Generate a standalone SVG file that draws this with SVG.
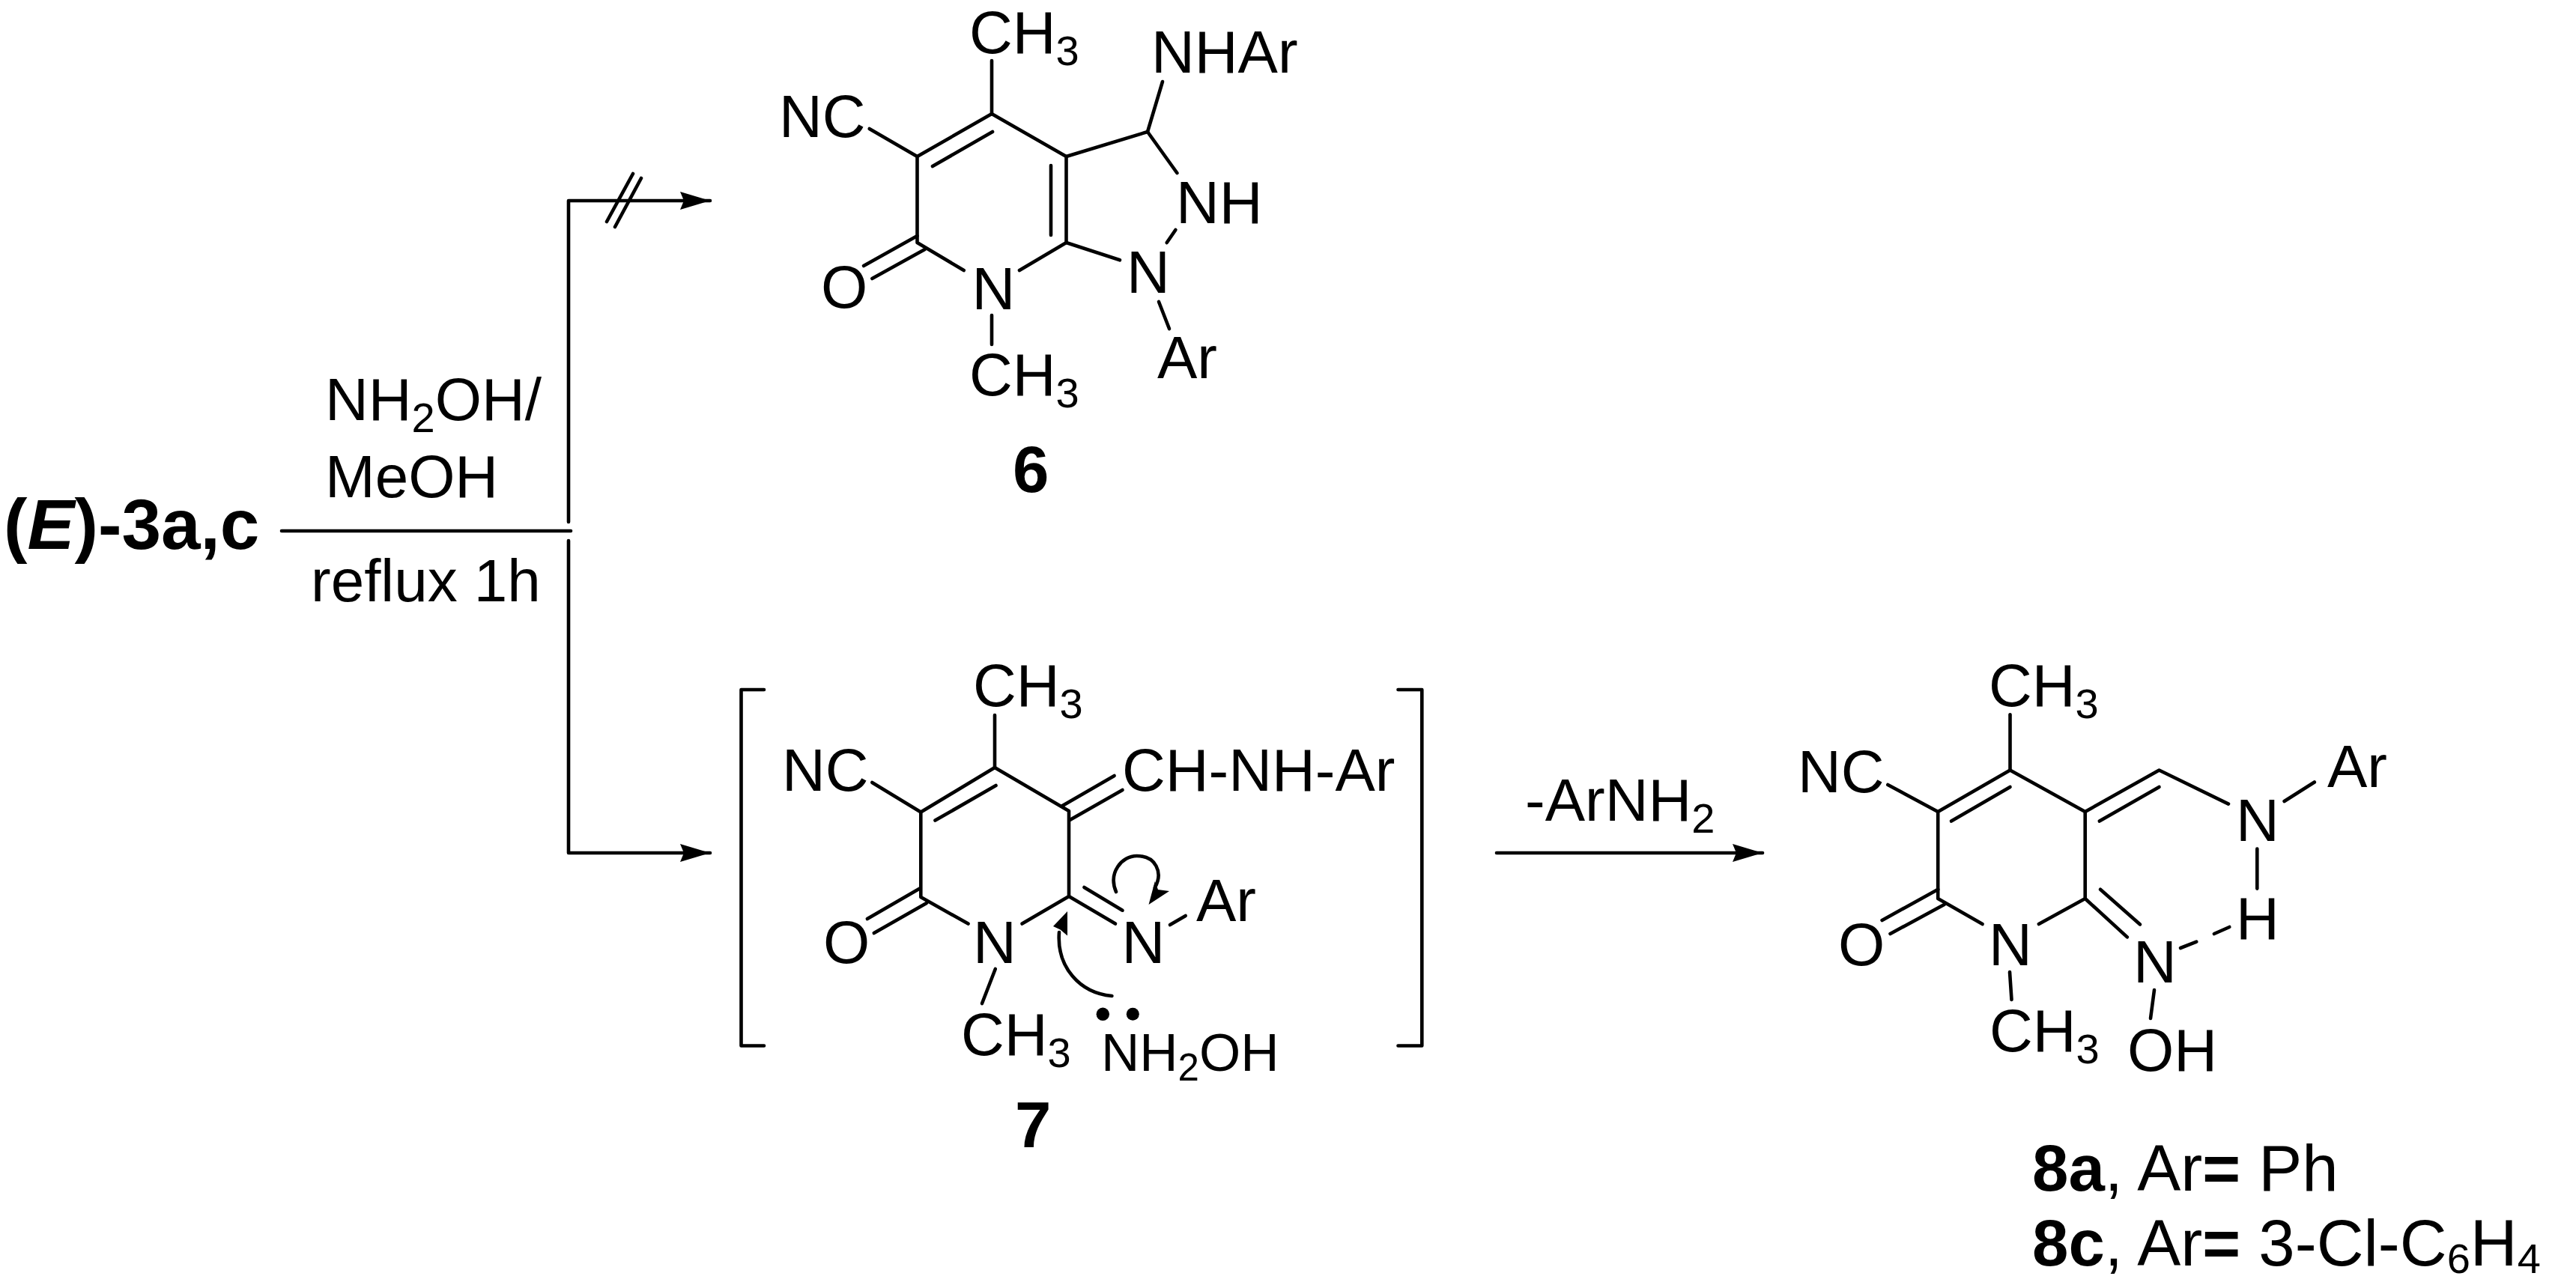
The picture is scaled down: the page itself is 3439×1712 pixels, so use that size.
<svg xmlns="http://www.w3.org/2000/svg" width="3439" height="1712" viewBox="0 0 3439 1712">
<style>
text{font-family:"Liberation Sans",Arial,sans-serif;font-size:80px;fill:#000}
.sub{font-size:56px}
.b{font-weight:bold;font-size:87px}
.t{font-weight:bold;font-size:94.5px}
.l{font-size:87px}
.ls{font-size:56px}
.n{font-size:71px}
.ns{font-size:51px}
line,path.s,polyline{stroke:#000;stroke-width:4.6;fill:none;stroke-linecap:round;stroke-linejoin:round}
</style>
<defs>
<marker id="ah" markerUnits="userSpaceOnUse" markerWidth="42" markerHeight="26" refX="40" refY="12" orient="auto"><path d="M0,0 L40,12 L0,24 L5,12 Z" fill="#000"/></marker>
</defs>
<rect width="3439" height="1712" fill="#fff"/>
<g id="connectors">
<line x1="376" y1="709" x2="762" y2="709"/>
<polyline points="759,697 759,268 948,268" marker-end="url(#ah)"/>
<polyline points="759,722 759,1139 948,1139" marker-end="url(#ah)"/>
<line x1="810" y1="296" x2="845" y2="232"/>
<line x1="821" y1="303" x2="856" y2="238"/>
<line x1="1998" y1="1139" x2="2353" y2="1139" marker-end="url(#ah)"/>
</g>
<g id="compound-3">
<text x="5" y="733" class="t">(<tspan font-style="italic">E</tspan>)-3a,c</text>
</g>
<g id="conditions">
<text x="434" y="561">NH<tspan class="sub" dy="16">2</tspan><tspan dy="-16">OH/</tspan></text>
<text x="434" y="664">MeOH</text>
<text x="415" y="803">reflux 1h</text>
<text x="2036" y="1096">-ArNH<tspan class="sub" dy="16">2</tspan></text>
</g>
<g id="compound-6">
<line x1="1324" y1="81" x2="1324" y2="152"/>
<polyline points="1324,152 1224.5,209 1224.5,324 1286.7,361"/>
<line x1="1325" y1="176" x2="1245" y2="222"/>
<line x1="1160.7" y1="172" x2="1224.5" y2="209"/>
<line x1="1224.5" y1="315" x2="1153" y2="355"/>
<line x1="1234.7" y1="333" x2="1164.3" y2="372"/>
<polyline points="1361,361 1423.5,324 1423.5,209 1324,152"/>
<line x1="1403" y1="221" x2="1403" y2="314"/>
<polyline points="1423.5,209 1532,176 1571.4,231"/>
<line x1="1532" y1="176" x2="1552" y2="109"/>
<line x1="1569.4" y1="307" x2="1557.7" y2="324"/>
<line x1="1423.5" y1="324" x2="1495" y2="347.3"/>
<line x1="1547" y1="403" x2="1561" y2="439"/>
<line x1="1324" y1="421" x2="1324" y2="460"/>
<text x="1294" y="70.5">CH<tspan class="sub" dy="16">3</tspan></text>
<text x="1537" y="97">NHAr</text>
<text x="1040" y="183">NC</text>
<text x="1570" y="298">NH</text>
<text x="1504" y="390.6">N</text>
<text x="1297.5" y="413">N</text>
<text x="1096" y="411">O</text>
<text x="1294" y="528">CH<tspan class="sub" dy="16">3</tspan></text>
<text x="1545" y="504.5">Ar</text>
<text x="1352" y="657" class="b">6</text>
</g>
<g id="compound-7">
<polyline points="1020,921 989.5,921 989.5,1396.5 1020,1396.5"/>
<polyline points="1866.5,921 1898.3,921 1898.3,1396.5 1866.5,1396.5"/>
<line x1="1328" y1="955" x2="1328" y2="1025"/>
<polyline points="1328,1025 1229.3,1084.5 1229.3,1198 1292.5,1233.6"/>
<line x1="1329.5" y1="1049" x2="1248.5" y2="1095.6"/>
<line x1="1164.3" y1="1045" x2="1229.3" y2="1084.5"/>
<polyline points="1328,1025 1427,1083 1427,1197 1364.5,1233.6"/>
<line x1="1417.5" y1="1076.4" x2="1487.6" y2="1036"/>
<line x1="1428.3" y1="1095" x2="1498.5" y2="1055"/>
<line x1="1228.7" y1="1186" x2="1157.9" y2="1227"/>
<line x1="1237" y1="1206" x2="1166.8" y2="1246"/>
<line x1="1427" y1="1197" x2="1489" y2="1233.6"/>
<line x1="1447.4" y1="1185" x2="1498.5" y2="1215.7"/>
<line x1="1562" y1="1235" x2="1582.7" y2="1223"/>
<line x1="1328.8" y1="1294" x2="1311" y2="1340"/>
<path class="s" d="M1490,1191 C1479,1165 1498,1143 1517.6,1143 C1543,1143 1553,1165 1542,1185"/>
<path d="M1533.5,1208 L1541.8,1177 L1546,1188 L1561,1190 Z" fill="#000"/>
<path class="s" d="M1484.4,1330 C1441,1326 1410.5,1291 1414,1245"/>
<path d="M1425,1217 L1406,1237 L1415.6,1241.6 L1425,1249.6 Z" fill="#000"/>
<circle cx="1472.3" cy="1354.3" r="8.7"/>
<circle cx="1512.3" cy="1354.3" r="8.5"/>
<text x="1299" y="942.7">CH<tspan class="sub" dy="16">3</tspan></text>
<text x="1044" y="1056">NC</text>
<text x="1498" y="1056">CH-NH-Ar</text>
<text x="1597" y="1230.4">Ar</text>
<text x="1099" y="1286">O</text>
<text x="1299" y="1286">N</text>
<text x="1497.6" y="1286">N</text>
<text x="1283" y="1409">CH<tspan class="sub" dy="16">3</tspan></text>
<text x="1470" y="1430" class="n">NH<tspan class="ns" dy="13">2</tspan><tspan dy="-13">OH</tspan></text>
<text x="1355" y="1532" class="b">7</text>
</g>
<g id="compound-8">
<line x1="2683.5" y1="954.3" x2="2683.5" y2="1028.5"/>
<polyline points="2683.5,1028.5 2587.2,1084 2587.2,1200 2646.6,1234"/>
<line x1="2683.5" y1="1051" x2="2605" y2="1096.5"/>
<line x1="2520.3" y1="1048" x2="2587.2" y2="1084"/>
<polyline points="2683.5,1028.5 2783.7,1084 2783.7,1200 2721.8,1234"/>
<polyline points="2783.7,1084 2882.5,1028.5 2975,1073.6"/>
<line x1="2882.5" y1="1051" x2="2802.8" y2="1096.5"/>
<line x1="3049.6" y1="1070" x2="3089.8" y2="1044.5"/>
<line x1="3013.3" y1="1133.6" x2="3013.3" y2="1186.6"/>
<line x1="2587.2" y1="1187.7" x2="2512.6" y2="1229"/>
<line x1="2595.5" y1="1208" x2="2523.5" y2="1247"/>
<line x1="2783.7" y1="1200" x2="2839.8" y2="1251.4"/>
<line x1="2804" y1="1187.7" x2="2857" y2="1234.4"/>
<line x1="2911" y1="1266" x2="2932.3" y2="1257.7"/>
<line x1="2955.9" y1="1247" x2="2976.3" y2="1238"/>
<line x1="2683" y1="1298" x2="2685.5" y2="1335"/>
<line x1="2876" y1="1322" x2="2871" y2="1360"/>
<text x="2655" y="943">CH<tspan class="sub" dy="16">3</tspan></text>
<text x="2400" y="1057.7">NC</text>
<text x="3107" y="1050.8">Ar</text>
<text x="2985" y="1123">N</text>
<text x="2985" y="1254">H</text>
<text x="2454" y="1288.5">O</text>
<text x="2655" y="1288.5">N</text>
<text x="2848" y="1312">N</text>
<text x="2656" y="1404">CH<tspan class="sub" dy="16">3</tspan></text>
<text x="2840" y="1430">OH</text>
<text x="2713" y="1590" class="l"><tspan class="b">8a</tspan>, Ar<tspan font-weight="bold">=</tspan> Ph</text>
<text x="2713" y="1690" class="l"><tspan class="b">8c</tspan>, Ar<tspan font-weight="bold">=</tspan> 3-Cl-C<tspan class="ls" dy="10">6</tspan><tspan dy="-10">H</tspan><tspan class="ls" dy="10">4</tspan></text>
</g>
</svg>
